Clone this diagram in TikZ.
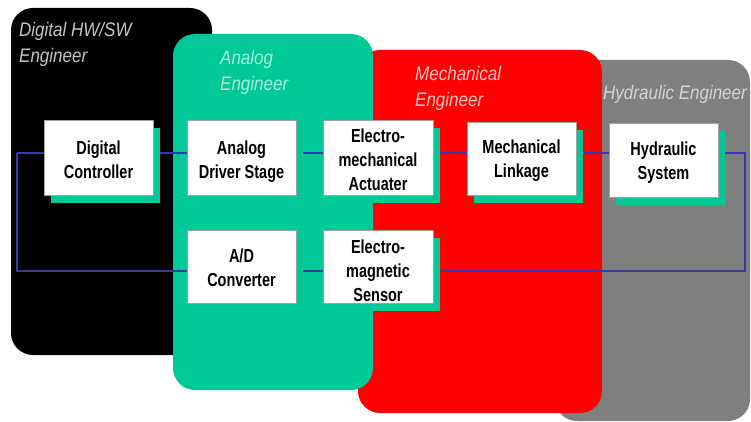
\documentclass[tikz,border=0pt]{standalone}
\usepackage{fontspec}
\usepackage{graphicx}
\setmainfont{Liberation Sans}
\setsansfont{Liberation Sans}
\usetikzlibrary{shadows}
\definecolor{pgreen}{HTML}{00C896}
\definecolor{pred}{HTML}{FF0000}
\definecolor{pgray}{HTML}{7F7F7D}
\definecolor{wireblue}{HTML}{3838A8}
\definecolor{lblgray}{HTML}{C4C4C4}
\definecolor{lblgreen}{HTML}{A8F0D8}
\definecolor{lblpink}{HTML}{FFC4C4}
\definecolor{lblhyd}{HTML}{D4D4D4}
\definecolor{boxborder}{HTML}{A0A0A0}
\pgfdeclarelayer{panels}
\pgfdeclarelayer{wires}
\pgfsetlayers{panels,wires,main}
\newcommand\boxtext[2][8.7pt]{\raisebox{-#1}{\scalebox{1}[1.3]{\begin{tabular}{@{}c@{}}#2\end{tabular}}}}
\newcommand\lbl[1]{\scalebox{1}[1.15]{#1}}
\tikzset{
  panel/.style={rounded corners=22pt, draw=none},
  blockbox/.style={draw=boxborder, line width=0.8pt, fill=white, inner sep=0pt,
    minimum width=109pt, minimum height=75pt, align=center,
    text height=0pt, text depth=0pt,
    font=\fontsize{14.5}{18.5}\selectfont\bfseries,
    general shadow={fill=pgreen, shadow xshift=7pt, shadow yshift=-8pt}},
  rolelabel/.style={anchor=base west, inner sep=0pt, align=left,
    font=\fontsize{17}{26}\selectfont\itshape},
  wire/.style={draw=wireblue, line width=1.4pt}
}
\begin{document}
\begin{tikzpicture}[x=1pt,y=-1pt]
\useasboundingbox (0,0) rectangle (751,422);
% panels
\begin{pgfonlayer}{panels}
\fill[panel, fill=pgray] (555,60) rectangle (750,421);
\fill[panel, fill=pred] (358,50) rectangle (602,413);
\fill[panel, fill=black] (11,8) rectangle (212,355);
\fill[panel, fill=pgreen] (173,34) rectangle (373,390);
\end{pgfonlayer}
% role labels (anchor = baseline of last line)
\node[rolelabel, text=lblgray] (lbldig) at (19,63) {\lbl{Digital HW/SW}\\\lbl{Engineer}};
\node[rolelabel, text=lblgreen] (lblana) at (220,91) {\lbl{Analog}\\\lbl{Engineer}};
\node[rolelabel, text=lblpink] (lblmec) at (415,107) {\lbl{Mechanical}\\\lbl{Engineer}};
\node[rolelabel, text=lblhyd] (lblhyd) at (603,100) {\lbl{Hydraulic Engineer}};
% blocks
\node[blockbox] (dc) at (98.5,157.5) {\boxtext{Digital\\Controller}};
\node[blockbox] (ads) at (241.5,157.5) {\boxtext{Analog\\Driver Stage}};
\node[blockbox, minimum width=110pt] (ema) at (378,157.5) {\boxtext{Electro-\\mechanical\\Actuater}};
\node[blockbox, minimum height=73pt] (ml) at (521.5,158.5) {\boxtext[6.7pt]{Mechanical\\Linkage}};
\node[blockbox, minimum height=74pt] (hs) at (663.5,160) {\boxtext[7.7pt]{Hydraulic\\System}};
\node[blockbox, minimum height=73pt] (adc) at (241.5,266.5) {\boxtext[7.7pt]{A/D\\Converter}};
\node[blockbox, minimum width=110pt, minimum height=73pt] (ems) at (378,266.5) {\boxtext[10.7pt]{Electro-\\magnetic\\Sensor}};
% wires
\coordinate (tl) at (17,153);
\coordinate (tr) at (745,153);
\coordinate (br) at (745,271);
\coordinate (bl) at (17,271);
\begin{pgfonlayer}{wires}
\draw[wire] (tl) -- (dc.west |- tl);
\draw[wire] (dc.east |- tl) -- (ads.west |- tl);
\draw[wire] (ads.east |- tl) -- (ema.west |- tl);
\draw[wire] (ema.east |- tl) -- (ml.west |- tl);
\draw[wire] (ml.east |- tl) -- (hs.west |- tl);
\draw[wire] (hs.east |- tr) -- (tr) -- (br) -- (ems.east |- br);
\draw[wire] (ems.west |- br) -- (adc.east |- br);
\draw[wire] (adc.west |- br) -- (bl) -- (tl);
\end{pgfonlayer}
\end{tikzpicture}
\end{document}
